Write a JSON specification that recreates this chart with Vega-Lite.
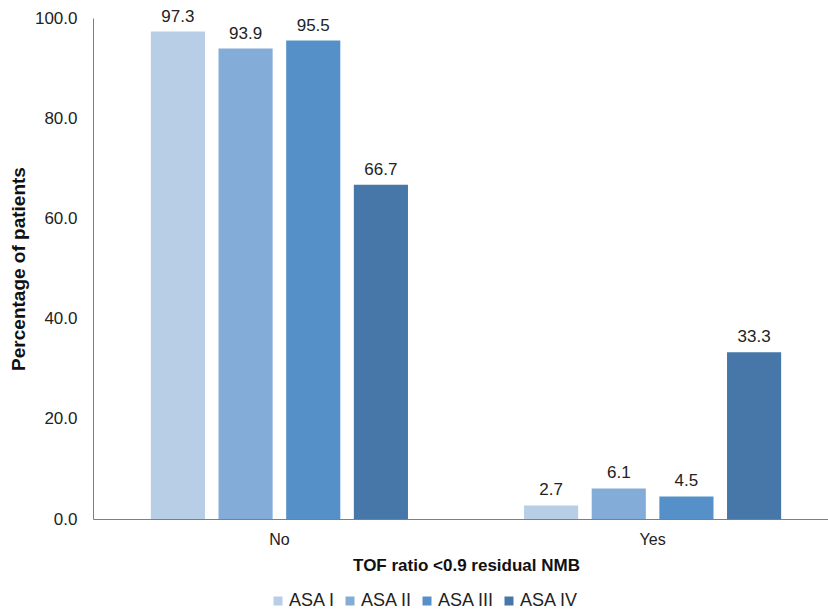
{
  "$schema": "https://vega.github.io/schema/vega-lite/v6.json",
  "autosize": {"type": "none"},
  "width": 746,
  "height": 501,
  "padding": {"left": 93, "top": 18, "right": 0, "bottom": 94},
  "background": "white",
  "config": {
    "view": {"stroke": null},
    "font": "Liberation Sans",
    "axis": {"grid": false, "ticks": false, "domainColor": "#7f7f7f", "labelColor": "#222222", "titleColor": "#111111"}
  },
  "data": {
    "values": [
      {"nmb": "No", "asa": "ASA I", "pct": 97.3},
      {"nmb": "No", "asa": "ASA II", "pct": 93.9},
      {"nmb": "No", "asa": "ASA III", "pct": 95.5},
      {"nmb": "No", "asa": "ASA IV", "pct": 66.7},
      {"nmb": "Yes", "asa": "ASA I", "pct": 2.7},
      {"nmb": "Yes", "asa": "ASA II", "pct": 6.1},
      {"nmb": "Yes", "asa": "ASA III", "pct": 4.5},
      {"nmb": "Yes", "asa": "ASA IV", "pct": 33.3}
    ]
  },
  "encoding": {
    "x": {
      "field": "nmb", "type": "nominal",
      "scale": {"paddingInner": 0.311, "paddingOuter": 0.155},
      "axis": {"title": "TOF ratio <0.9 residual NMB", "labelAngle": 0, "labelFontSize": 16, "labelPadding": 12, "titleFontSize": 17, "titleFontWeight": "bold", "titlePadding": 10}
    },
    "xOffset": {"field": "asa", "type": "nominal", "sort": ["ASA I", "ASA II", "ASA III", "ASA IV"], "scale": {"paddingInner": 0.2, "paddingOuter": 0}},
    "y": {
      "field": "pct", "type": "quantitative",
      "scale": {"domain": [0, 100]},
      "axis": {"title": "Percentage of patients", "values": [0, 20, 40, 60, 80, 100], "format": ".1f", "labelFontSize": 17, "labelPadding": 16, "titleFontSize": 19, "titleFontWeight": "bold", "titlePadding": 6}
    }
  },
  "layer": [
    {
      "mark": {"type": "bar"},
      "encoding": {
        "color": {
          "field": "asa", "type": "nominal", "sort": ["ASA I", "ASA II", "ASA III", "ASA IV"],
          "scale": {"domain": ["ASA I", "ASA II", "ASA III", "ASA IV"], "range": ["#b8cde6", "#84acd9", "#5591c8", "#4677a8"]},
          "legend": {"title": null, "orient": "none", "direction": "horizontal", "legendX": 176, "legendY": 574, "symbolType": "square", "symbolSize": 81, "symbolStrokeWidth": 0, "labelFontSize": 18, "labelColor": "#222222", "labelOffset": 2, "columnPadding": 5}
        }
      }
    },
    {
      "mark": {"type": "text", "baseline": "alphabetic", "dy": -10, "fontSize": 17, "color": "#222222"},
      "encoding": {"text": {"field": "pct", "type": "quantitative", "format": ".1f"}}
    }
  ]
}
